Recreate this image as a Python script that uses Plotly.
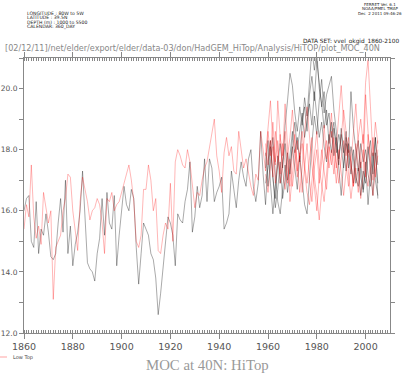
import plotly.graph_objects as go

# ---------------- data ----------------
years_long = list(range(1860, 2006))
years_ens = list(range(1959, 2006))

black_long = [
    16.0, 16.4, 16.5, 15.0, 14.8, 16.3, 14.6, 15.4, 15.2, 15.9,   # 1860s
    15.3, 14.5, 14.4, 14.6, 15.6, 16.4, 15.3, 17.0, 14.6, 15.5,   # 1870s
    14.2, 14.9, 15.3, 16.0, 17.3, 16.0, 14.3, 14.1, 14.0, 13.7,   # 1880s
    14.6, 15.1, 16.4, 15.2, 16.6, 15.6, 15.4, 16.5, 14.2, 15.2,   # 1890s
    16.1, 16.8, 16.2, 16.0, 16.7, 16.4, 14.8, 13.6, 14.6, 15.6,   # 1900s
    15.4, 15.2, 14.6, 14.4, 13.8, 12.6, 13.3, 14.1, 15.0, 15.8,   # 1910s
    15.6, 15.2, 14.2, 15.9, 15.7, 15.6, 16.3, 16.7, 17.6, 15.3,   # 1920s
    15.8, 16.8, 16.1, 16.5, 17.7, 16.3, 17.7, 17.4, 16.3, 16.6,   # 1930s
    16.8, 17.1, 15.4, 15.6, 15.9, 17.3, 16.7, 16.1, 17.0, 17.6,   # 1940s
    17.1, 16.8, 17.7, 18.0, 16.8, 16.3, 16.9, 18.6, 17.2, 16.2,   # 1950s
    17.6, 18.3, 17.1, 16.4, 17.8, 16.9, 17.5, 18.2, 17.0, 17.8,   # 1960s
    18.6, 17.9, 18.4, 17.6, 18.9, 19.4, 18.6, 19.8, 20.4, 19.6,   # 1970s
    20.9, 20.2, 19.4, 19.9, 18.8, 19.2, 18.4, 18.9, 17.9, 18.5,   # 1980s
    18.1, 17.4, 18.2, 17.8, 17.2, 18.0, 17.1, 16.8, 17.6, 16.6,   # 1990s
    17.3, 18.1, 17.4, 16.5, 17.9, 16.9,                           # 2000s
]

red_long = [
    15.4, 16.2, 15.8, 17.5, 15.8, 15.1, 15.5, 14.9, 16.6, 16.1,   # 1860s
    15.6, 16.0, 13.1, 14.8, 15.0, 15.2, 16.0, 16.4, 17.2, 17.1,   # 1870s
    16.0, 15.3, 14.7, 16.3, 17.1, 16.7, 16.3, 15.7, 16.0, 16.1,   # 1880s
    16.4, 16.2, 15.6, 14.6, 16.4, 16.3, 16.6, 16.0, 16.2, 16.3,   # 1890s
    16.6, 16.9, 17.2, 17.5, 17.0, 16.3, 15.0, 14.8, 15.2, 16.7,   # 1900s
    16.7, 17.5, 17.0, 16.0, 16.4, 14.7, 14.6, 15.2, 15.6, 15.4,   # 1910s
    16.9, 15.0, 17.6, 18.0, 17.8, 17.5, 17.4, 18.0, 17.6, 16.9,   # 1920s
    16.1, 16.6, 16.5, 17.0, 17.4, 17.6, 18.1, 18.6, 19.0, 17.8,   # 1930s
    17.3, 16.6, 17.9, 18.4, 17.8, 18.1, 17.3, 17.2, 18.6, 18.0,   # 1940s
    17.4, 17.7, 17.2, 16.8, 16.5, 17.2, 17.0, 18.6, 18.0, 17.3,   # 1950s
    18.6, 17.8, 18.9, 17.6, 18.3, 16.9, 17.7, 18.6, 17.4, 16.8,   # 1960s
    17.9, 18.5, 17.3, 17.9, 16.6, 17.5, 18.2, 17.0, 16.3, 17.4,   # 1970s
    18.0, 16.9, 17.6, 18.8, 17.7, 18.3, 19.2, 18.1, 17.4, 18.0,   # 1980s
    17.2, 16.5, 17.3, 18.0, 17.6, 16.8, 17.5, 18.4, 19.0, 18.2,   # 1990s
    20.2, 20.95, 19.4, 17.8, 18.9, 18.2,                          # 2000s
]

black_ens = [
    [17.4, 18.3, 16.9, 15.9, 16.8, 17.5, 18.2, 17.4, 18.8, 19.6, 20.5,
     20.1, 19.2, 18.6, 19.4, 18.8, 19.7, 19.1, 20.3, 21.3, 20.6,
     21.2, 20.0, 19.5, 18.7, 19.3, 18.2, 18.9, 17.8, 18.4, 17.5,
     18.7, 18.0, 17.3, 18.2, 17.6, 16.9, 17.8, 18.3, 17.1, 16.7,
     17.6, 16.2, 17.2, 17.9, 17.0, 16.5],
    [17.9, 16.8, 17.6, 18.4, 17.2, 16.3, 15.9, 16.8, 17.5, 16.6, 17.3,
     18.1, 17.4, 16.7, 17.8, 16.9, 16.2, 15.9, 17.1, 18.2, 19.1,
     18.5, 19.6, 20.3, 19.2, 19.8, 20.1, 20.4, 19.3, 18.6, 17.4,
     16.5, 17.6, 18.4, 17.9, 19.9, 18.7, 18.0, 17.3, 18.2, 17.6,
     18.0, 17.2, 16.8, 17.7, 18.4, 17.5],
    [16.9, 17.4, 18.1, 17.0, 16.1, 16.7, 17.6, 16.4, 17.0, 17.9, 17.2,
     18.3, 18.9, 18.0, 18.6, 19.2, 18.4, 18.9, 19.5, 18.8, 19.9,
     19.1, 18.4, 18.9, 18.1, 17.6, 18.5, 17.9, 18.7, 18.2, 17.7,
     18.5, 17.9, 18.6, 17.4, 18.1, 17.7, 16.9, 17.4, 16.5, 17.3,
     16.9, 17.8, 18.3, 17.2, 18.4, 16.4],
]

red_ens = [
    [17.8, 18.7, 19.6, 18.2, 17.5, 19.6, 18.4, 17.8, 19.5, 18.1, 16.3,
     17.2, 18.0, 17.1, 17.8, 18.6, 17.5, 16.9, 17.7, 18.4, 17.1,
     16.5, 15.7, 16.8, 17.6, 18.3, 17.4, 18.0, 17.2, 18.1, 19.0,
     20.1, 18.9, 17.8, 18.4, 17.5, 16.8, 17.4, 16.6, 17.9, 18.5,
     17.2, 16.8, 17.6, 18.4, 17.1, 18.0],
    [17.2, 16.6, 17.4, 18.1, 16.9, 17.6, 18.5, 17.3, 16.7, 17.8, 18.4,
     19.3, 18.2, 17.6, 16.6, 17.4, 18.6, 19.4, 18.3, 17.5, 16.8,
     16.0, 17.1, 18.0, 17.3, 16.7, 17.9, 18.6, 17.7, 16.9, 17.8,
     18.4, 19.3, 18.6, 17.2, 16.4, 17.1, 18.2, 17.5, 16.4, 17.2,
     19.8, 18.6, 17.3, 16.5, 17.3, 17.8],
    [18.2, 17.5, 18.3, 17.1, 18.6, 17.9, 17.2, 18.2, 17.6, 16.9, 17.7,
     16.8, 17.5, 18.3, 17.7, 18.2, 17.3, 16.6, 16.2, 17.0, 17.8,
     18.6, 17.4, 16.9, 16.3, 17.2, 18.1, 17.5, 18.4, 17.6, 16.9,
     17.7, 18.3, 17.5, 16.8, 17.6, 18.7, 19.5, 18.2, 17.4, 18.0,
     17.1, 18.5, 17.8, 17.0, 17.7, 18.3],
]

x_tick_vals = [1860, 1880, 1900, 1920, 1940, 1960, 1980, 2000]
y_tick_vals = [12, 14, 16, 18, 20]
y_tick_text = ["12.0", "14.0", "16.0", "18.0", "20.0"]

header_left = ["LONGITUDE : 80W to 5W", "LATITUDE : 39.5N",
               "DEPTH (m) : 1000 to 5500", "CALENDAR: 360_DAY"]
header_right = ["FERRET Ver. 6.1", "NOAA/PMEL TMAP", "Dec  2 2011 09:46:26"]
dataset_text = "DATA SET: vvel_okgid_1860-2100"
path_text = "[02/12/11]/net/elder/export/elder/data-03/don/HadGEM_HiTop/Analysis/HiTOP/plot_MOC_40N"
legend_text = "Low Top"
title_text = "MOC at 40N: HiTop"

# ---------------- figure ----------------
BLACK = "rgba(0,0,0,0.42)"
RED = "rgba(255,0,0,0.36)"
LW = 0.8

fig = go.Figure()
for ys in black_ens:
    fig.add_trace(go.Scatter(x=years_ens, y=ys, mode="lines",
                             line=dict(color=BLACK, width=LW), hoverinfo="skip"))
fig.add_trace(go.Scatter(x=years_long, y=black_long, mode="lines",
                         line=dict(color=BLACK, width=LW), hoverinfo="skip"))
for ys in red_ens:
    fig.add_trace(go.Scatter(x=years_ens, y=ys, mode="lines",
                             line=dict(color=RED, width=LW), hoverinfo="skip"))
fig.add_trace(go.Scatter(x=years_long, y=red_long, mode="lines",
                         line=dict(color=RED, width=LW), hoverinfo="skip"))

W, H = 414, 377
L, R, T, B = 24, 24, 58, 44
PW, PH = W - L - R, H - T - B


def px(x):
    return (x - L) / PW


def py(y):
    return (H - B - y) / PH


ann = []
for i, t in enumerate(header_left):
    ann.append(dict(text=t, x=px(25), y=py(13.3 + 4.5 * i), xanchor="left",
                    yanchor="middle", font=dict(size=4.6, color="#222")))
for i, t in enumerate(header_right):
    ann.append(dict(text=t, x=px(380), y=py(4 + 4.6 * i), xanchor="center",
                    yanchor="middle", font=dict(size=4.0, color="#222")))
ann.append(dict(text=dataset_text, x=px(401), y=py(41), xanchor="right",
                yanchor="middle", font=dict(size=5.8, color="#222")))
ann.append(dict(text=path_text, x=px(3), y=py(48), xanchor="left",
                yanchor="middle", font=dict(size=8.1, color="#888")))
ann.append(dict(text=legend_text, x=px(11), y=py(357), xanchor="left",
                yanchor="middle", font=dict(size=5, color="#444")))
ann.append(dict(text=title_text, x=px(207), y=py(365), xanchor="center",
                yanchor="middle",
                font=dict(size=14.8, color="#999",
                          family="Liberation Serif, DejaVu Serif, serif")))
for a in ann:
    a.update(xref="paper", yref="paper", showarrow=False)
    if "family" not in a["font"]:
        a["font"]["family"] = "DejaVu Sans, sans-serif"

fig.update_layout(
    width=W, height=H,
    margin=dict(l=L, r=R, t=T, b=B, pad=0, autoexpand=False),
    paper_bgcolor="white", plot_bgcolor="white",
    showlegend=False,
    annotations=ann,
    shapes=[dict(type="line", xref="paper", yref="paper",
                 x0=px(0), x1=px(7), y0=py(357), y1=py(357),
                 line=dict(color=RED, width=1))],
    font=dict(family="DejaVu Sans, sans-serif", color="#444"),
)

fig.update_xaxes(
    range=[1860, 2010], tickmode="array", tickvals=x_tick_vals,
    ticks="outside", ticklen=5, tickcolor="#888", tickwidth=1,
    showline=True, linecolor="#888", linewidth=1, mirror="ticks",
    showgrid=False, zeroline=False, automargin=False,
    tickfont=dict(size=9.5, color="#555"),
    minor=dict(dtick=1, tick0=1860, ticks="inside", ticklen=3,
               tickcolor="#888", tickwidth=1, showgrid=False),
)
fig.update_yaxes(
    range=[12, 21], tickmode="array", tickvals=y_tick_vals, ticktext=y_tick_text,
    ticks="outside", ticklen=4, tickcolor="#888", tickwidth=1,
    showline=True, linecolor="#888", linewidth=1, mirror="ticks",
    showgrid=False, zeroline=False, automargin=False,
    tickfont=dict(size=7.5, color="#555"),
    minor=dict(dtick=1, tick0=12, ticks="outside", ticklen=4,
               tickcolor="#888", tickwidth=1, showgrid=False),
)

fig.write_html("out.html",
               config={"displayModeBar": False, "staticPlot": True},
               post_script="document.body.style.margin='0px';"
                           "document.body.style.overflow='hidden';")
